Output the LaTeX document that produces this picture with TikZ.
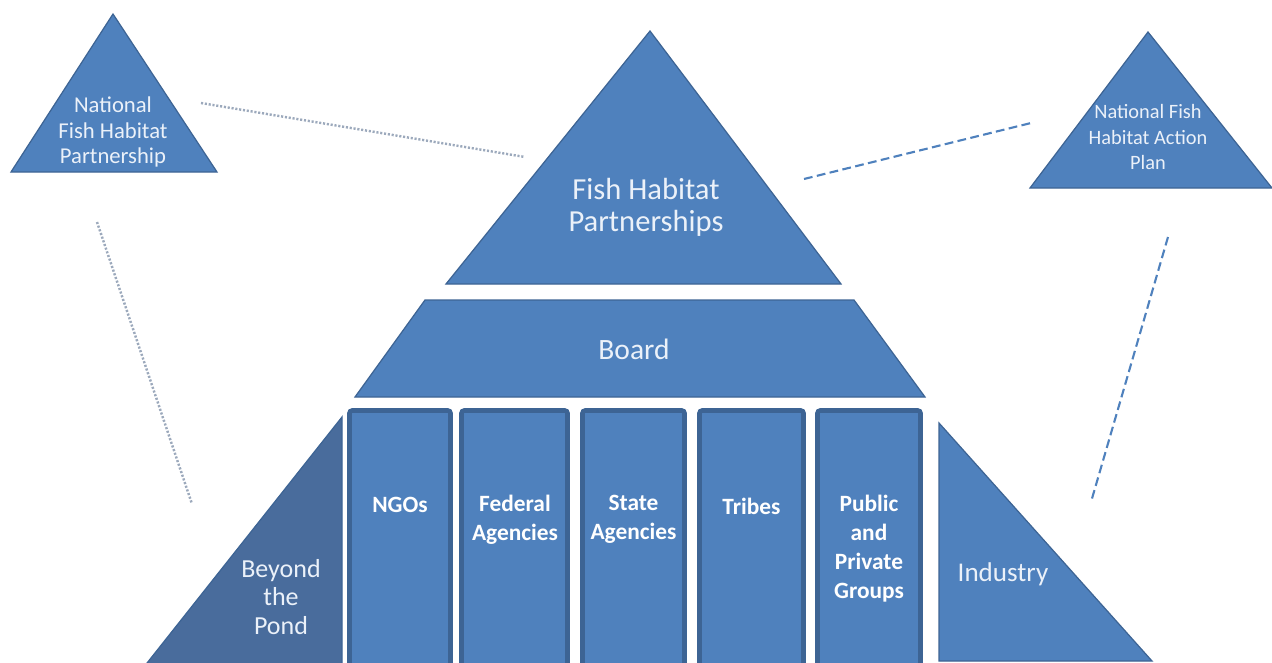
\documentclass[tikz,border=0pt]{standalone}
\usepackage{fontspec}
\setmainfont{Carlito}
\usetikzlibrary{calc}

\definecolor{fillblue}{HTML}{4F81BD}
\definecolor{edgeblue}{HTML}{3D6494}
\definecolor{pondblue}{HTML}{496C9C}
\definecolor{lightwhite}{HTML}{EBF1F9}
\definecolor{dotgray}{HTML}{9CA9BC}

\begin{document}
\begin{tikzpicture}[x=0.02cm,y=-0.02cm,
    shapebox/.style={fill=fillblue,draw=edgeblue,line width=0.7pt,line join=miter},
    colbox/.style={fill=fillblue,draw=edgeblue,line width=2.6pt,rounded corners=1.5pt},
    shapetext/.style={text=lightwhite,align=center,inner sep=0pt},
    coltext/.style={text=white,align=center,inner sep=0pt,font=\bfseries\fontsize{13.3}{16.4}\selectfont},
    dotline/.style={dotgray,line width=1.4pt,dash pattern=on 1.2pt off 1pt},
    dashline/.style={fillblue,line width=1.2pt,dash pattern=on 5pt off 2.5pt}
]
    \useasboundingbox (0,0) rectangle (1272,663);
    \clip (0,0) rectangle (1272,663);

    % 定义点
    \coordinate (L1) at (113,14);
    \coordinate (L2) at (11,172);
    \coordinate (L3) at (217,172);
    \coordinate (M1) at (650,31);
    \coordinate (M2) at (446,284);
    \coordinate (M3) at (841,284);
    \coordinate (R1) at (1148,32);
    \coordinate (R2) at (1030,188);
    \coordinate (R3) at (1272,188);

    % 三个三角形
    \draw[shapebox] (L1) -- (L2) -- (L3) -- cycle;
    \draw[shapebox] (M1) -- (M2) -- (M3) -- cycle;
    \draw[shapebox] (R1) -- (R2) -- (R3) -- cycle;

    \node[shapetext,font=\fontsize{12.9}{14.3}\selectfont] (nfhp) at (113,132)
        {National\\Fish Habitat\\Partnership};
    \node[shapetext,font=\fontsize{17.4}{18.2}\selectfont] (fhp) at (646,207)
        {Fish Habitat\\Partnerships};
    \node[shapetext,font=\fontsize{11.6}{14.3}\selectfont] (nfhap) at (1148,137)
        {National Fish\\Habitat Action\\Plan};

    % 梯形 Board
    \draw[shapebox] (425,300) -- (854,300) -- (925,397) -- (355,397) -- cycle;
    \node[shapetext,font=\fontsize{16.8}{18}\selectfont] (board) at (634,349) {Board};

    % 五根柱子
    \draw[colbox] (349.5,410.5) rectangle (450.5,672);
    \draw[colbox] (461.5,410.5) rectangle (567.5,672);
    \draw[colbox] (582.5,410.5) rectangle (684.5,672);
    \draw[colbox] (699.5,410.5) rectangle (803.5,672);
    \draw[colbox] (817.5,410.5) rectangle (920.5,672);

    \node[coltext] (ngo) at (400,505) {NGOs};
    \node[coltext] (fed) at (515,519.5) {Federal\\Agencies};
    \node[coltext] (state) at (633.5,519.5) {State\\Agencies};
    \node[coltext] (tribe) at (751.5,506) {Tribes};
    \node[coltext] (pub) at (869,548.5) {Public\\and\\Private\\Groups};

    % 两侧直角三角形
    \draw[shapebox,fill=pondblue] (342,417) -- (342,670) -- (141.5,670) -- cycle;
    \node[shapetext,font=\fontsize{14.8}{16.4}\selectfont] (pond) at (281,597)
        {Beyond\\the\\Pond};
    \draw[shapebox] (939,423) -- (1152,661) -- (939,661) -- cycle;
    \node[shapetext,font=\fontsize{15.4}{18}\selectfont] (ind) at (1003,574) {Industry};

    % 虚线
    \coordinate (a1) at (201,103);
    \coordinate (a2) at (525,157);
    \coordinate (b1) at (97,222);
    \coordinate (b2) at (192,504);
    \coordinate (c1) at (804,179);
    \coordinate (c2) at (1031,123);
    \coordinate (d1) at (1168,237);
    \coordinate (d2) at (1091,502);
    \draw[dotline] (a1) -- (a2);
    \draw[dotline] (b1) -- (b2);
    \draw[dashline] (c1) -- (c2);
    \draw[dashline] (d1) -- (d2);
\end{tikzpicture}
\end{document}
